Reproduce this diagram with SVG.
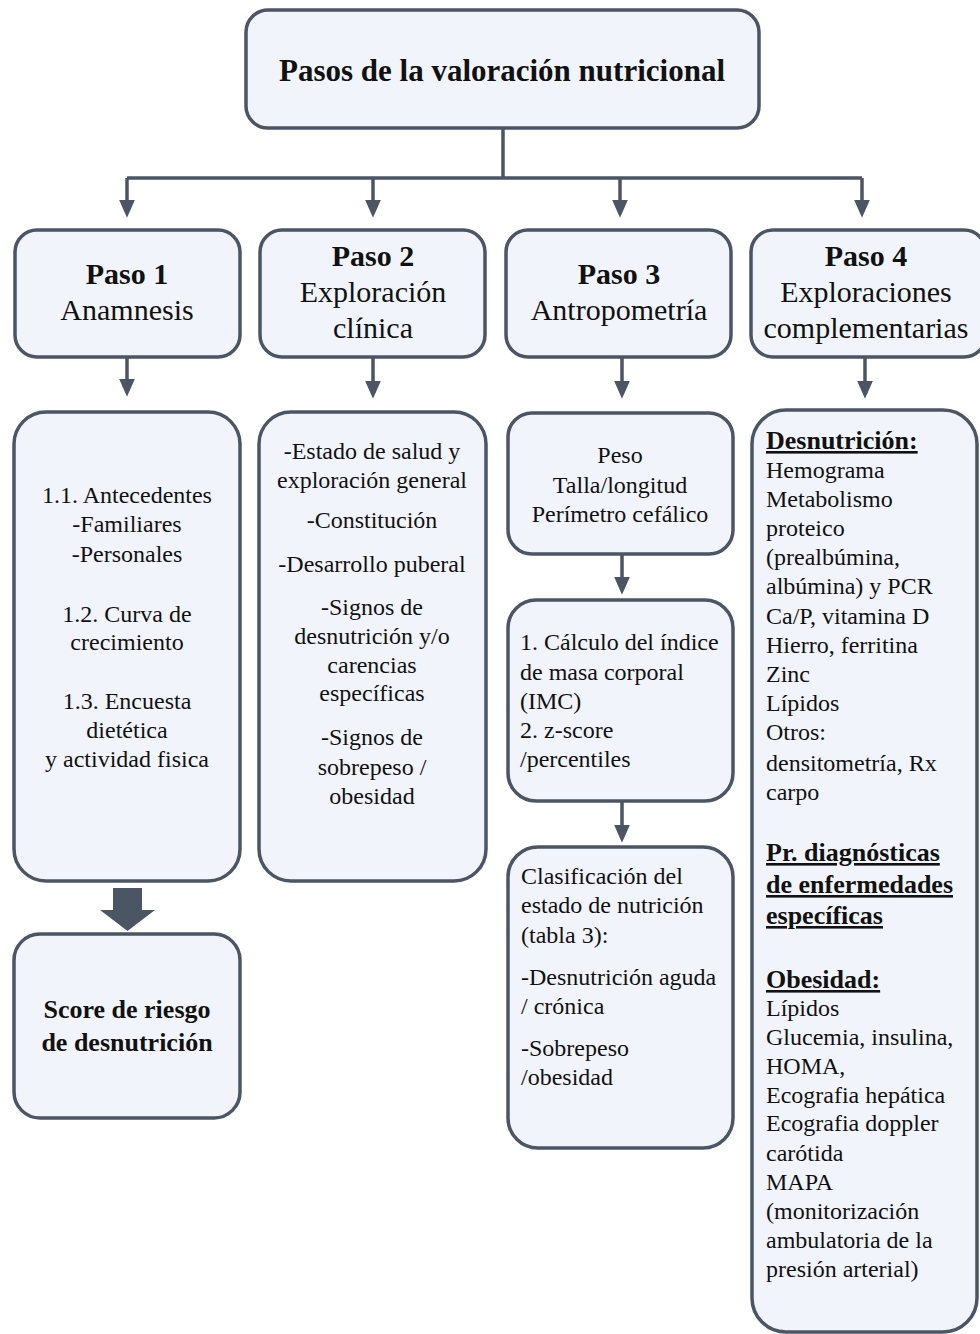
<svg xmlns="http://www.w3.org/2000/svg" width="980" height="1334" viewBox="0 0 980 1334">
<style>
.box{fill:#f1f5fb;stroke:#4b5564;stroke-width:3.5}
.t{font-family:"Liberation Serif","Times New Roman",serif;fill:#111}
.c{text-anchor:middle}
.title{font-size:31px;font-weight:bold}
.h{font-size:30px}
.hb{font-size:30px;font-weight:bold}
.d{font-size:24px}
.sb{font-size:26px;font-weight:bold}
.u{font-size:26px;font-weight:bold;text-decoration:underline}
.ln{stroke:#4b5564;stroke-width:3.5;fill:none}
</style>
<defs>
<marker id="ah" markerWidth="6" markerHeight="6" refX="3" refY="3" orient="auto" markerUnits="strokeWidth">
<path d="M0,0.7 L5.2,3 L0,5.3 Z" fill="#4b5564"/>
</marker>
</defs>
<rect width="980" height="1334" fill="#fff"/>

<g id="connectors">
<path class="ln" d="M503,128 V178 M127,178 H862"/>
<path class="ln" d="M127,178 V210" marker-end="url(#ah)"/>
<path class="ln" d="M373,178 V210" marker-end="url(#ah)"/>
<path class="ln" d="M620,178 V210" marker-end="url(#ah)"/>
<path class="ln" d="M862,178 V210" marker-end="url(#ah)"/>
<path class="ln" d="M127,358 V389" marker-end="url(#ah)"/>
<path class="ln" d="M373,358 V391" marker-end="url(#ah)"/>
<path class="ln" d="M622,358 V391" marker-end="url(#ah)"/>
<path class="ln" d="M865,358 V391" marker-end="url(#ah)"/>
<path class="ln" d="M622,554 V587" marker-end="url(#ah)"/>
<path class="ln" d="M622,801 V835" marker-end="url(#ah)"/>
<path d="M113,888 H142 V910 H155 L127.5,931 L100,910 H113 Z" fill="#4b5564"/>
</g>

<g id="title">
<rect class="box" x="246" y="10" width="513" height="118" rx="22"/>
<text class="t c title" x="502" y="81">Pasos de la valoración nutricional</text>
</g>

<g id="paso1">
<rect class="box" x="15" y="230" width="225" height="127" rx="22"/>
<text class="t c hb" x="127" y="284">Paso 1</text>
<text class="t c h" x="127" y="320">Anamnesis</text>
</g>
<g id="paso2">
<rect class="box" x="260" y="230" width="225" height="127" rx="22"/>
<text class="t c hb" x="373" y="266">Paso 2</text>
<text class="t c h" x="373" y="302">Exploración</text>
<text class="t c h" x="373" y="338">clínica</text>
</g>
<g id="paso3">
<rect class="box" x="506" y="230" width="225" height="127" rx="22"/>
<text class="t c hb" x="619" y="284">Paso 3</text>
<text class="t c h" x="619" y="320">Antropometría</text>
</g>
<g id="paso4">
<rect class="box" x="751" y="230" width="235" height="127" rx="22"/>
<text class="t c hb" x="866" y="266">Paso 4</text>
<text class="t c h" x="866" y="302">Exploraciones</text>
<text class="t c h" x="866" y="338">complementarias</text>
</g>

<g id="anamnesis">
<rect class="box" x="14" y="412" width="226" height="469" rx="32"/>
<text class="t c d" x="127" y="503">1.1. Antecedentes</text>
<text class="t c d" x="127" y="532">-Familiares</text>
<text class="t c d" x="127" y="562">-Personales</text>
<text class="t c d" x="127" y="622">1.2. Curva de</text>
<text class="t c d" x="127" y="650">crecimiento</text>
<text class="t c d" x="127" y="709">1.3. Encuesta</text>
<text class="t c d" x="127" y="738">dietética</text>
<text class="t c d" x="127" y="767">y actividad fisica</text>
</g>

<g id="score">
<rect class="box" x="14" y="934" width="226" height="184" rx="26"/>
<text class="t c sb" x="127" y="1018">Score de riesgo</text>
<text class="t c sb" x="127" y="1051">de desnutrición</text>
</g>

<g id="exploracion">
<rect class="box" x="259" y="412" width="227" height="469" rx="32"/>
<text class="t c d" x="372" y="459">-Estado de salud y</text>
<text class="t c d" x="372" y="488">exploración general</text>
<text class="t c d" x="372" y="528">-Constitución</text>
<text class="t c d" x="372" y="572">-Desarrollo puberal</text>
<text class="t c d" x="372" y="615">-Signos de</text>
<text class="t c d" x="372" y="644">desnutrición y/o</text>
<text class="t c d" x="372" y="673">carencias</text>
<text class="t c d" x="372" y="701">específicas</text>
<text class="t c d" x="372" y="745">-Signos de</text>
<text class="t c d" x="372" y="775">sobrepeso /</text>
<text class="t c d" x="372" y="804">obesidad</text>
</g>

<g id="medidas">
<rect class="box" x="508" y="413" width="225" height="141" rx="24"/>
<text class="t c d" x="620" y="463">Peso</text>
<text class="t c d" x="620" y="493">Talla/longitud</text>
<text class="t c d" x="620" y="522">Perímetro cefálico</text>
</g>

<g id="calculo">
<rect class="box" x="508" y="600" width="225" height="201" rx="28"/>
<text class="t d" x="520" y="650">1. Cálculo del índice</text>
<text class="t d" x="520" y="680">de masa corporal</text>
<text class="t d" x="520" y="709">(IMC)</text>
<text class="t d" x="520" y="738">2. z-score</text>
<text class="t d" x="520" y="767">/percentiles</text>
</g>

<g id="clasificacion">
<rect class="box" x="508" y="847" width="225" height="301" rx="30"/>
<text class="t d" x="521" y="884">Clasificación del</text>
<text class="t d" x="521" y="913">estado de nutrición</text>
<text class="t d" x="521" y="943">(tabla 3):</text>
<text class="t d" x="521" y="985">-Desnutrición aguda</text>
<text class="t d" x="521" y="1014">/ crónica</text>
<text class="t d" x="521" y="1056">-Sobrepeso</text>
<text class="t d" x="521" y="1085">/obesidad</text>
</g>

<g id="complementarias">
<rect class="box" x="752" y="410" width="225" height="922" rx="34"/>
<text class="t u" x="766" y="449">Desnutrición:</text>
<text class="t d" x="766" y="478">Hemograma</text>
<text class="t d" x="766" y="507">Metabolismo</text>
<text class="t d" x="766" y="536">proteico</text>
<text class="t d" x="766" y="565">(prealbúmina,</text>
<text class="t d" x="766" y="594">albúmina) y PCR</text>
<text class="t d" x="766" y="624">Ca/P, vitamina D</text>
<text class="t d" x="766" y="653">Hierro, ferritina</text>
<text class="t d" x="766" y="682">Zinc</text>
<text class="t d" x="766" y="711">Lípidos</text>
<text class="t d" x="766" y="740">Otros:</text>
<text class="t d" x="766" y="771">densitometría, Rx</text>
<text class="t d" x="766" y="800">carpo</text>
<text class="t u" x="766" y="861">Pr. diagnósticas</text>
<text class="t u" x="766" y="893">de enfermedades</text>
<text class="t u" x="766" y="924">específicas</text>
<text class="t u" x="766" y="988">Obesidad:</text>
<text class="t d" x="766" y="1016">Lípidos</text>
<text class="t d" x="766" y="1045">Glucemia, insulina,</text>
<text class="t d" x="766" y="1074">HOMA,</text>
<text class="t d" x="766" y="1103">Ecografia hepática</text>
<text class="t d" x="766" y="1131">Ecografia doppler</text>
<text class="t d" x="766" y="1161">carótida</text>
<text class="t d" x="766" y="1190">MAPA</text>
<text class="t d" x="766" y="1219">(monitorización</text>
<text class="t d" x="766" y="1248">ambulatoria de la</text>
<text class="t d" x="766" y="1277">presión arterial)</text>
</g>
</svg>
